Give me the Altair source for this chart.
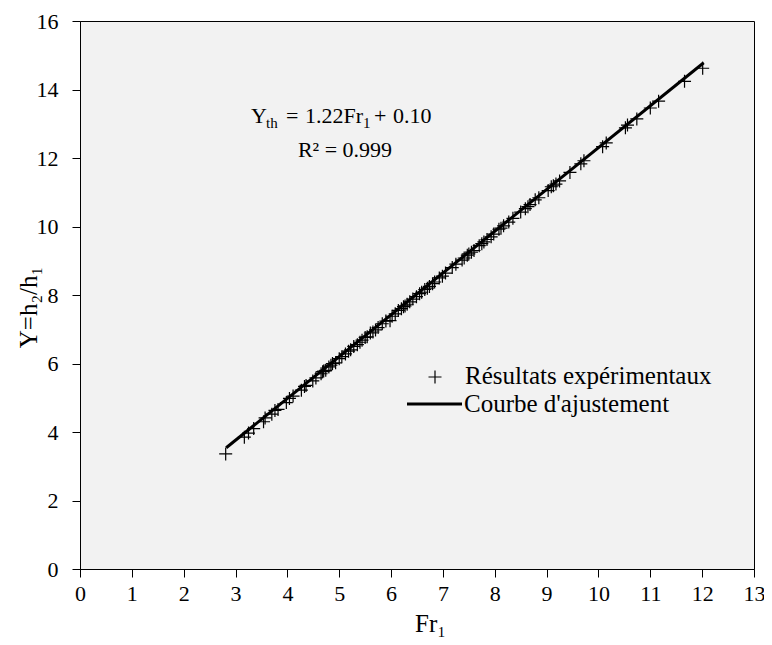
import altair as alt
import pandas as pd

fr = [2.81, 3.17, 3.25, 3.35, 3.54, 3.57, 3.70, 3.76, 3.82, 3.98, 4.04, 4.11,
      4.27, 4.33, 4.36, 4.49, 4.55, 4.65, 4.68, 4.70, 4.74, 4.80, 4.84, 4.87,
      4.93, 5.00, 5.05, 5.12, 5.18, 5.22, 5.28, 5.35, 5.40, 5.44, 5.50, 5.54,
      5.60, 5.65, 5.70, 5.75, 5.83, 5.90, 5.98, 6.02, 6.08, 6.14, 6.20, 6.24,
      6.27, 6.31, 6.36, 6.42, 6.49, 6.55, 6.59, 6.65, 6.70, 6.74, 6.80, 6.84,
      6.93, 6.99, 7.05, 7.18, 7.25, 7.37, 7.41, 7.47, 7.50, 7.55, 7.60, 7.70,
      7.75, 7.79, 7.85, 7.93, 7.98, 8.08, 8.12, 8.17, 8.27, 8.35, 8.50, 8.59,
      8.64, 8.68, 8.78, 8.85, 9.03, 9.09, 9.13, 9.18, 9.25, 9.45, 9.66, 9.72,
      10.08, 10.15, 10.52, 10.56, 10.74, 11.00, 11.16, 11.66, 12.01]
yy = [3.36, 3.85, 3.97, 4.10, 4.30, 4.41, 4.52, 4.63, 4.66, 4.86, 4.98, 5.05,
      5.22, 5.33, 5.36, 5.49, 5.58, 5.70, 5.76, 5.78, 5.80, 5.90, 5.95, 6.00,
      6.02, 6.14, 6.20, 6.28, 6.36, 6.40, 6.50, 6.55, 6.62, 6.68, 6.76, 6.78,
      6.89, 6.92, 6.98, 7.05, 7.16, 7.24, 7.25, 7.38, 7.45, 7.55, 7.60, 7.66,
      7.68, 7.73, 7.80, 7.88, 7.95, 8.04, 8.08, 8.16, 8.20, 8.25, 8.33, 8.38,
      8.50, 8.55, 8.64, 8.80, 8.90, 9.02, 9.08, 9.16, 9.20, 9.25, 9.30, 9.44,
      9.50, 9.55, 9.62, 9.70, 9.78, 9.92, 9.95, 10.02, 10.13, 10.24, 10.42, 10.52,
      10.58, 10.64, 10.78, 10.84, 11.05, 11.16, 11.19, 11.24, 11.33, 11.58, 11.83, 11.92,
      12.33, 12.44, 12.88, 12.96, 13.14, 13.46, 13.66, 14.24, 14.62]

# Fitted line Y_th = 1.22 Fr1 + 0.10 (end points)
fit_x = [2.82, 12.03]
fit_y = [3.54, 14.78]

x_ticks = list(range(0, 14))
y_ticks = list(range(0, 17, 2))

FONT = "Liberation Serif"
FS = 22
PLUS = "M-1,0L1,0M0,-1L0,1"

pts = pd.DataFrame({"Fr": fr, "Y": yy})
fit = pd.DataFrame({"Fr": fit_x, "Y": fit_y})
one = pd.DataFrame({"k": [0]})

xsc = alt.Scale(domain=[0, 13], nice=False, zero=False)
ysc = alt.Scale(domain=[0, 16], nice=False, zero=False)

common_axis = dict(grid=False, tickSize=8, labelFontSize=FS, titleFontSize=25,
                   labelFont=FONT, titleFont=FONT, domainColor="black",
                   tickColor="black", labelColor="black", titleColor="black",
                   titleFontWeight="normal", domainWidth=1, tickWidth=1)

x_axis = alt.Axis(title="Fr₁", values=x_ticks, labelPadding=6, labelFlush=False,
                  titleX=350, titleY=54, titleBaseline="middle", **common_axis)
y_axis = alt.Axis(title="Y=h₂/h₁", values=y_ticks, labelPadding=14,
                  titleX=-52, titleY=286, titleBaseline="middle", **common_axis)

points = alt.Chart(pts).mark_point(shape=PLUS, filled=False, stroke="black",
                                   strokeWidth=1.2, size=169, opacity=1).encode(
    x=alt.X("Fr:Q", scale=xsc, axis=x_axis),
    y=alt.Y("Y:Q", scale=ysc, axis=y_axis),
)

line = alt.Chart(fit).mark_line(color="black", strokeWidth=3).encode(
    x=alt.X("Fr:Q", scale=xsc),
    y=alt.Y("Y:Q", scale=ysc),
)

def txt(s, x, y, size=FS, align="left"):
    return alt.Chart(one).mark_text(align=align, baseline="middle", font=FONT,
                                    fontSize=size, color="black").encode(
        x=alt.value(x), y=alt.value(y), text=alt.value(s))

# equation annotation
eq = [
    txt("Y", 171, 95),
    txt("th", 186, 102, size=15),
    txt("=", 206, 95),
    txt("1.22Fr", 225, 95),
    txt("1", 283, 102, size=15),
    txt("+", 294, 95),
    txt("0.10", 313, 95),
    txt("R² = 0.999", 265, 129, align="center"),
]

# legend
leg_pt = alt.Chart(one).mark_point(shape=PLUS, filled=False, stroke="black",
                                   strokeWidth=1.2, size=169, opacity=1).encode(
    x=alt.value(355), y=alt.value(356))
leg_line = alt.Chart(one).mark_rule(color="black", strokeWidth=3).encode(
    x=alt.value(327), x2=alt.value(382), y=alt.value(383))
leg_txt = [txt("Résultats expérimentaux", 385, 355, size=25),
           txt("Courbe d'ajustement", 384, 383, size=25)]

chart = alt.layer(line, points, *eq, leg_pt, leg_line, *leg_txt).properties(
    width=674, height=548,
    autosize=alt.AutoSizeParams(type="none"),
    padding={"left": 72, "top": 13, "right": 10, "bottom": 68},
).configure(background="white"
).configure_view(fill="#f2f2f2", stroke="black", strokeWidth=1)

chart.save("out.html", embed_options={"renderer": "svg", "actions": False})
